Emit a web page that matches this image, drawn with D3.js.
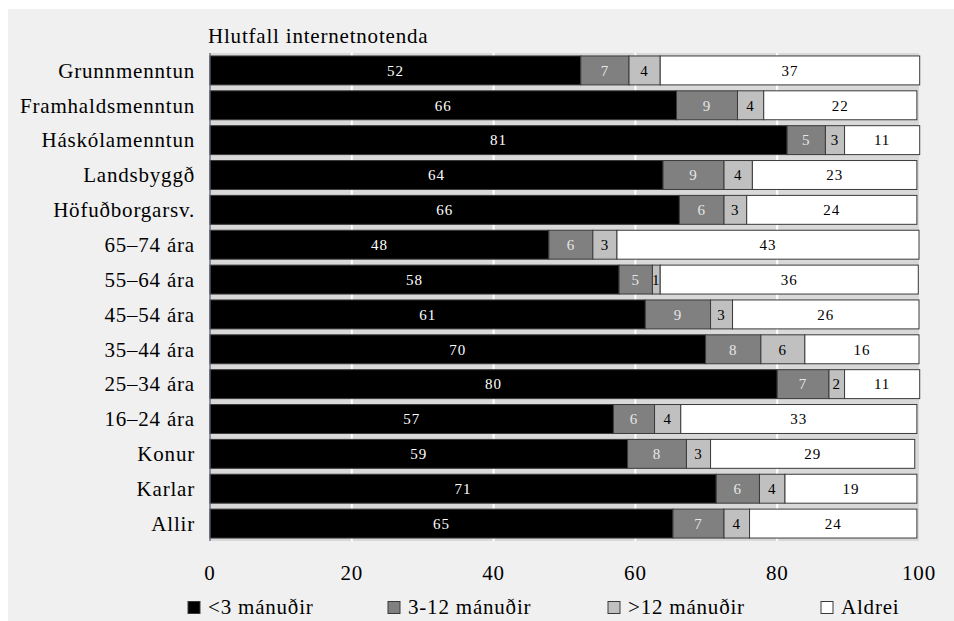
<!DOCTYPE html>
<html>
<head>
<meta charset="utf-8">
<script src="https://cdn.jsdelivr.net/npm/d3@7"></script>
<style>
  html, body { margin: 0; padding: 0; background: #ffffff; }
  svg text { font-family: "Liberation Serif", "Times New Roman", serif; }
</style>
</head>
<body>
<svg id="chart" width="954" height="621"></svg>
<script>
const title = "Hlutfall internetnotenda";
const categories = ["Grunnmenntun","Framhaldsmenntun","Háskólamenntun","Landsbyggð","Höfuðborgarsv.","65–74 ára","55–64 ára","45–54 ára","35–44 ára","25–34 ára","16–24 ára","Konur","Karlar","Allir"];
const seriesNames = ["<3 mánuðir","3-12 mánuðir",">12 mánuðir","Aldrei"];
const under3  = [52.3,65.8,81.4,63.9,66.2,47.8,57.7,61.4,69.9,80.0,56.9,58.9,71.4,65.3];
const m3to12  = [6.8,8.6,5.4,8.6,6.3,6.2,4.7,9.2,7.8,7.3,5.8,8.3,6.1,7.2];
const over12  = [4.4,3.7,2.7,4.0,3.2,3.4,1.1,3.1,6.2,2.2,3.7,3.4,3.6,3.6];
const never   = [36.6,21.6,10.6,23.2,24.0,42.6,36.4,26.3,16.1,10.6,33.3,28.8,18.6,23.6];
const xTicks = [0,20,40,60,80,100];

const fills = ["#000000","#808080","#c0c0c0","#ffffff"];
const labelColors = ["#ffffff","#e6e6e6","#000000","#000000"];

const svg = d3.select("#chart");
const FS = 21, LS = 0.8;

// panel background
svg.append("rect").attr("x",8).attr("y",9).attr("width",946).attr("height",612).attr("fill","#f0f0f0");

const x = d3.scaleLinear().domain([0,100]).range([210,919]);
const y = d3.scaleBand().domain(categories).range([53,541]).paddingInner(0.17).paddingOuter(0.085);

// plot area
svg.append("rect").attr("x",x(0)).attr("y",53).attr("width",x(100)-x(0)).attr("height",488).attr("fill","#d9d9d9");

// gridlines
svg.append("g").selectAll("line").data(xTicks.filter(t=>t>0 && t<100)).join("line")
  .attr("x1",d=>x(d)).attr("x2",d=>x(d)).attr("y1",53).attr("y2",541)
  .attr("stroke","#ffffff").attr("stroke-width",2);

// stacked data
const rows = categories.map((c,i)=>({cat:c, s0:under3[i], s1:m3to12[i], s2:over12[i], s3:never[i]}));
const stack = d3.stack().keys(["s0","s1","s2","s3"])(rows);

const gBars = svg.append("g");
stack.forEach((layer,k)=>{
  const g = gBars.append("g");
  g.selectAll("rect").data(layer).join("rect")
    .attr("x",d=>x(d[0]))
    .attr("y",d=>y(d.data.cat))
    .attr("width",d=>x(d[1])-x(d[0]))
    .attr("height",y.bandwidth())
    .attr("fill",fills[k])
    .attr("stroke","#3a3a3a").attr("stroke-width",1);
  g.selectAll("text").data(layer).join("text")
    .attr("x",d=>(x(d[0])+x(d[1]))/2)
    .attr("y",d=>y(d.data.cat)+y.bandwidth()/2)
    .attr("dy","0.35em")
    .attr("text-anchor","middle")
    .attr("font-size",15).attr("letter-spacing",1)
    .attr("fill",labelColors[k])
    .text(d=>d3.format(".0f")(d[1]-d[0]));
});

// left axis line
svg.append("line").attr("x1",x(0)).attr("x2",x(0)).attr("y1",53).attr("y2",541)
  .attr("stroke","#505868").attr("stroke-width",1.2);

// category labels
svg.append("g").selectAll("text").data(categories).join("text")
  .attr("x",195).attr("y",d=>y(d)+y.bandwidth()/2).attr("dy","0.35em")
  .attr("text-anchor","end").attr("font-size",FS).attr("letter-spacing",LS)
  .attr("fill","#000").text(d=>d);

// x tick labels
svg.append("g").selectAll("text").data(xTicks).join("text")
  .attr("x",d=>x(d)).attr("y",580).attr("text-anchor","middle")
  .attr("font-size",FS).attr("letter-spacing",LS).attr("fill","#000").text(d=>d);

// title
svg.append("text").attr("x",208).attr("y",43).attr("font-size",FS).attr("letter-spacing",LS)
  .attr("fill","#000").text(title);

// legend
const legX = [188,388,608,821];
const leg = svg.append("g").selectAll("g").data(seriesNames).join("g")
  .attr("transform",(d,i)=>`translate(${legX[i]},0)`);
leg.append("rect").attr("x",0).attr("y",601.5).attr("width",12).attr("height",12)
  .attr("fill",(d,i)=>fills[i]).attr("stroke","#3a3a3a").attr("stroke-width",1);
leg.append("text").attr("x",20).attr("y",614).attr("font-size",FS).attr("letter-spacing",LS)
  .attr("fill","#000").text(d=>d);
</script>
</body>
</html>
